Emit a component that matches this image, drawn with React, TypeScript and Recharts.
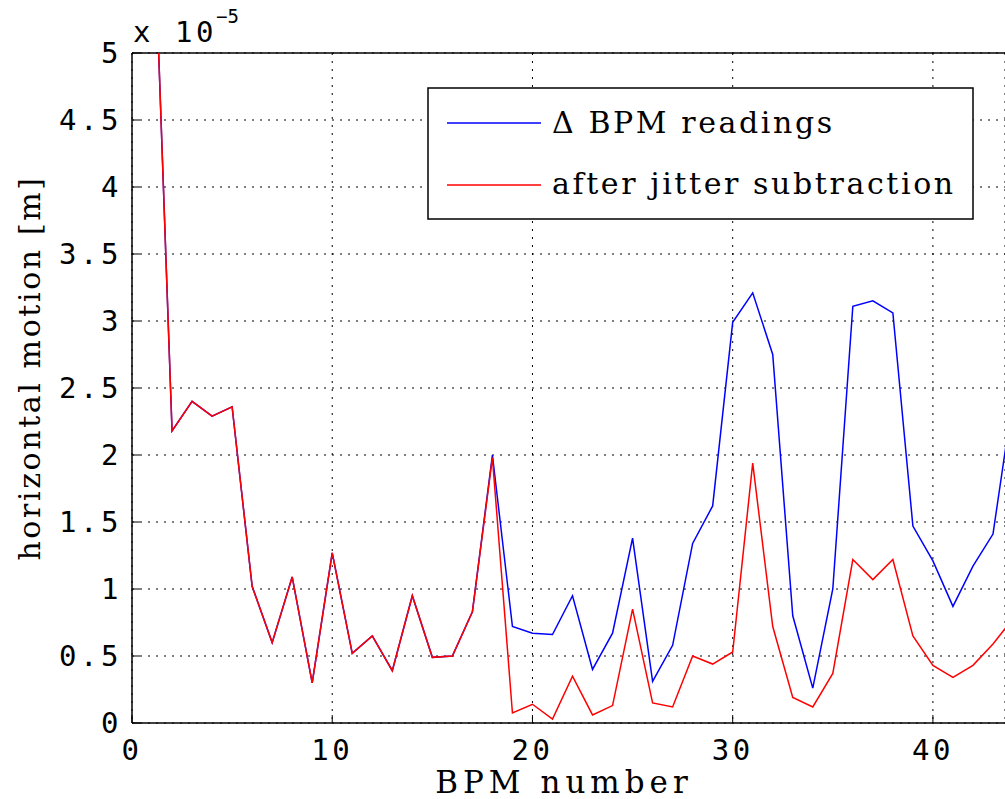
import React from 'react';
import { LineChart, Line, XAxis, YAxis, CartesianGrid, ReferenceLine } from 'recharts';

// BPM index along the beam line
const bpmNumbers = [
  1, 2, 3, 4, 5, 6, 7, 8, 9, 10, 11, 12, 13, 14, 15, 16, 17, 18, 19, 20, 21, 22,
  23, 24, 25, 26, 27, 28, 29, 30, 31, 32, 33, 34, 35, 36, 37, 38, 39, 40, 41, 42, 43, 44,
];

// values in units of 1e-5 m
const bpmReadings = [
  6.4, 2.18, 2.4, 2.29, 2.36, 1.02, 0.6, 1.09, 0.3, 1.27, 0.52, 0.65, 0.39, 0.95, 0.49,
  0.5, 0.83, 2.0, 0.72, 0.67, 0.66, 0.95, 0.4, 0.67, 1.38, 0.31, 0.58, 1.34, 1.62, 2.99,
  3.21, 2.75, 0.8, 0.26, 1.0, 3.11, 3.15, 3.06, 1.47, 1.21, 0.87, 1.17, 1.41, 2.43,
];

const afterJitter = [
  6.4, 2.18, 2.4, 2.29, 2.36, 1.02, 0.6, 1.09, 0.3, 1.27, 0.52, 0.65, 0.39, 0.95, 0.49,
  0.5, 0.83, 1.98, 0.075, 0.14, 0.03, 0.35, 0.06, 0.13, 0.85, 0.15, 0.12, 0.5, 0.44, 0.53,
  1.94, 0.72, 0.19, 0.12, 0.37, 1.22, 1.07, 1.22, 0.65, 0.43, 0.34, 0.43, 0.59, 0.78,
];

const xTicks = [0, 10, 20, 30, 40];
const yTicks = [0, 0.5, 1, 1.5, 2, 2.5, 3, 3.5, 4, 4.5, 5];

const seriesNames = ['\u0394 BPM readings', 'after jitter subtraction'];
const seriesColors = ['#0000ff', '#ff0000'];

const data = bpmNumbers.map((n, i) => ({
  bpm: n,
  readings: bpmReadings[i],
  corrected: afterJitter[i],
}));

const mono = "'DejaVu Sans Mono', monospace";
const serif =
  "'DejaVu Serif', 'Liberation Serif', Tinos, 'Nimbus Roman', 'Noto Serif', FreeSerif, Times, serif";

const X_MARGIN = 14;
const Y_MARGIN = 10;

const monoStyle = { fontFamily: mono, fontSize: 29, letterSpacing: 3.5 };
const serifStyle = { fontFamily: serif, fontSize: 30, letterSpacing: 2.6 };

function XTick(props: any) {
  const { x, y, payload } = props;
  const axisY = y - X_MARGIN;
  return (
    <g>
      <line x1={x} x2={x} y1={axisY} y2={axisY - 8} stroke="#000" strokeWidth={1} />
      <text x={x} y={y} dy={23} textAnchor="middle" style={monoStyle} fill="#000">
        {payload.value}
      </text>
    </g>
  );
}

function YTick(props: any) {
  const { x, y, payload } = props;
  const axisX = x + Y_MARGIN;
  return (
    <g>
      <line x1={axisX} x2={axisX + 8} y1={y} y2={y} stroke="#000" strokeWidth={1} />
      <text x={x} y={y} dy={10} textAnchor="end" style={monoStyle} fill="#000">
        {String(payload.value)}
      </text>
    </g>
  );
}

export default function App() {
  return (
    <div style={{ position: 'absolute', left: 0, top: 0, width: 1005, height: 799, background: '#fff' }}>
      <LineChart width={1005} height={799} data={data}
        margin={{ top: 53, right: 0, left: 0, bottom: 0 }}>
        <CartesianGrid stroke="#000" strokeDasharray="2 6" strokeWidth={1} />
        <XAxis dataKey="bpm" type="number" domain={[0, 43.6]} ticks={xTicks}
          allowDataOverflow height={76} tickSize={0} tickMargin={X_MARGIN}
          axisLine={{ stroke: '#000', strokeWidth: 1.5 }} tickLine={false} tick={<XTick />} />
        <YAxis type="number" domain={[0, 5]} ticks={yTicks} allowDataOverflow width={132}
          tickSize={0} tickMargin={Y_MARGIN}
          axisLine={{ stroke: '#000', strokeWidth: 1.5 }} tickLine={false} tick={<YTick />} />
        <ReferenceLine y={5} stroke="#000" strokeWidth={1.5} />
        <Line type="linear" dataKey="readings" name={seriesNames[0]} stroke={seriesColors[0]}
          strokeWidth={1.5} dot={false} isAnimationActive={false} />
        <Line type="linear" dataKey="corrected" name={seriesNames[1]} stroke={seriesColors[1]}
          strokeWidth={1.5} dot={false} isAnimationActive={false} />
      </LineChart>

      <svg width={1005} height={799}
        style={{ position: 'absolute', left: 0, top: 0, pointerEvents: 'none' }}>
        {/* exponent */}
        <text x={133} y={42} style={monoStyle} fill="#000">x 10</text>
        <text x={216} y={23} style={{ fontFamily: mono, fontSize: 19 }} fill="#000">{'\u22125'}</text>

        {/* axis titles */}
        <text x={564} y={793} textAnchor="middle" style={{ ...serifStyle, fontSize: 31, letterSpacing: 5 }}
          fill="#000">
          BPM number
        </text>
        <text transform="translate(40,368) rotate(-90)" textAnchor="middle" style={serifStyle} fill="#000">
          horizontal motion [m]
        </text>

        {/* legend */}
        <rect x={428} y={88} width={545} height={131} fill="#fff" stroke="#000" strokeWidth={1.5} />
        {seriesNames.map((name, i) => (
          <g key={name}>
            <line x1={447} x2={541} y1={123 + i * 62} y2={123 + i * 62}
              stroke={seriesColors[i]} strokeWidth={1.5} />
            <text x={552} y={133 + i * 61} style={serifStyle} fill="#000">{name}</text>
          </g>
        ))}
      </svg>
    </div>
  );
}
